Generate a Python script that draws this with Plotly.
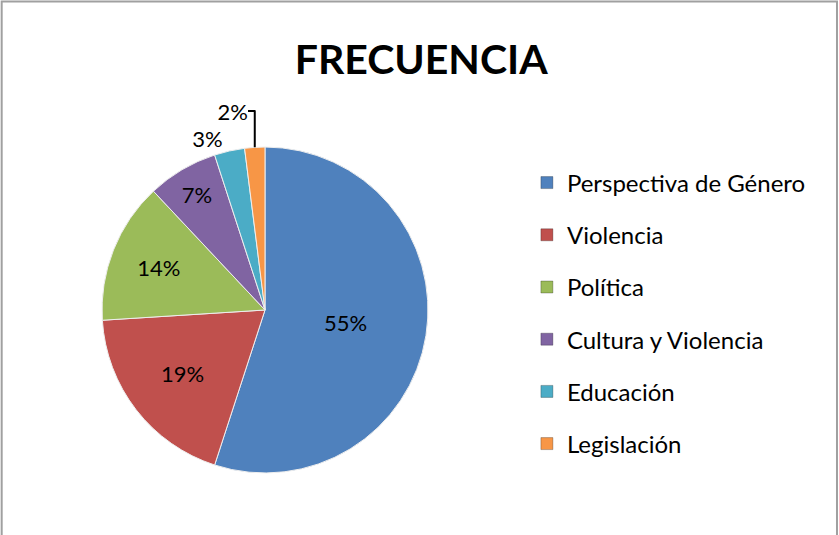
import plotly.graph_objects as go

# datos
labels = ['Perspectiva de Género', 'Violencia', 'Política',
          'Cultura y Violencia', 'Educación', 'Legislación']
values = [55, 19, 14, 7, 3, 2]
colors = ['#4F81BD', '#C0504D', '#9BBB59', '#8064A2', '#4BACC6', '#F79646']
text_pos = ['inside', 'inside', 'inside', 'inside', 'outside', 'outside']

FONT = 'Lato, Open Sans, sans-serif'

fig = go.Figure()

fig.add_trace(go.Pie(
    labels=labels,
    values=values,
    sort=False,
    direction='clockwise',
    rotation=0,
    marker=dict(colors=colors, line=dict(color='#eeeeee', width=1)),
    texttemplate='%{percent:.0%}',
    textposition=text_pos,
    insidetextorientation='horizontal',
    textfont=dict(family=FONT, size=22, color='black'),
    showlegend=False,
    domain=dict(x=[0.1216, 0.5101], y=[0.1159, 0.7252]),
    hoverinfo='label+percent'
))

# leyenda con mas espacio entre entradas
for lab, col in zip(labels, colors):
    fig.add_trace(go.Scatter(
        x=[None], y=[None],
        mode='markers',
        name=lab,
        legendgroup=lab,
        marker=dict(symbol='square', size=12, color=col,
                    line=dict(color='rgba(0,0,0,0.25)', width=1))
    ))

fig.update_layout(
    width=839,
    height=535,
    margin=dict(l=0, r=0, t=0, b=0),
    paper_bgcolor='white',
    plot_bgcolor='white',
    title=dict(text='<b>FRECUENCIA</b>', x=0.502, y=0.888,
               xanchor='center', yanchor='middle',
               font=dict(family=FONT, size=41, color='black')),
    xaxis=dict(visible=False),
    yaxis=dict(visible=False),
    legend=dict(x=0.628, y=0.70, xanchor='left', yanchor='top',
                font=dict(family=FONT, size=24, color='black'),
                tracegroupgap=18, traceorder='grouped',
                bgcolor='rgba(0,0,0,0)'),
    shapes=[dict(type='rect', xref='paper', yref='paper',
                 x0=0.002, x1=0.9976, y0=-0.02, y1=0.997,
                 line=dict(color='#a0a0a0', width=2))]
)

# quitar el margen del body para que la figura quede en 0,0
fig.write_html("out.html", config={'displayModeBar': False},
               post_script="document.body.style.margin='0';")
